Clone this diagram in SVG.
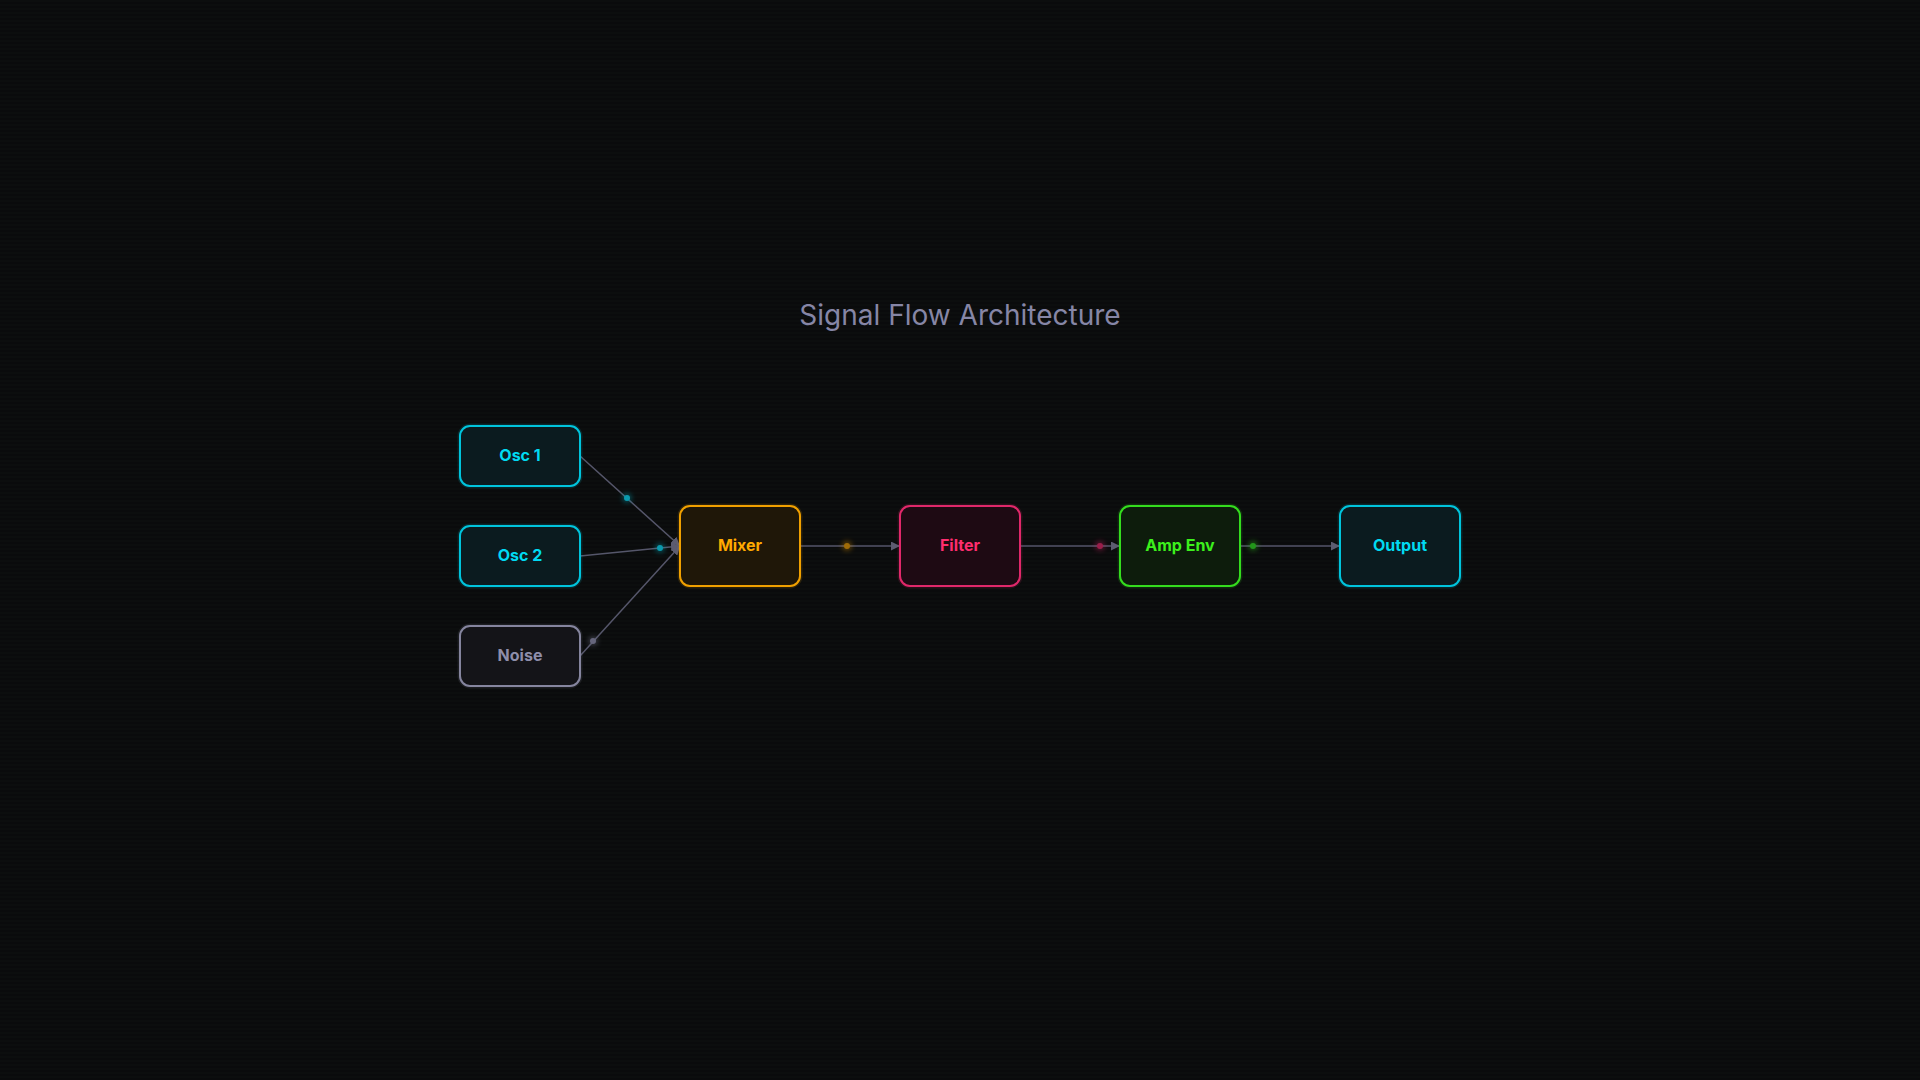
<svg xmlns="http://www.w3.org/2000/svg" width="1920" height="1080" viewBox="0 0 1920 1080">
  <defs>
    <pattern id="scan" width="4" height="4" patternUnits="userSpaceOnUse">
      <rect width="4" height="2" fill="#0c0e0e"/>
    </pattern>
    <marker id="arr" viewBox="0 0 10 10" refX="10" refY="5" markerWidth="9" markerHeight="9" markerUnits="userSpaceOnUse" orient="auto">
      <path d="M0,0 L10,5 L0,10 Z" fill="#5c5c70"/>
    </marker>
    <filter id="glow" x="-50%" y="-50%" width="200%" height="200%">
      <feGaussianBlur stdDeviation="2.5"/>
    </filter>
    <style>
      .title { font-family: Inter, "Liberation Sans", sans-serif; font-size: 28px; fill: #8686a6; text-anchor: middle; }
      .lbl { font-family: Inter, "Liberation Sans", sans-serif; font-size: 16px; font-weight: 700; text-anchor: middle; }
      .box { stroke-width: 2; }
      .halo { fill: none; stroke-width: 5; stroke-opacity: 0.14; }
      .edge { fill: none; stroke: #55566a; stroke-width: 1.5; }
      .cyan .box { fill: #0b1b1f; stroke: #00c4dc; }
      .cyan .halo { stroke: #00c4dc; }
      .cyan text { fill: #00daf2; }
      .gray .box { fill: #141418; stroke: #85859e; }
      .gray .halo { stroke: #85859e; }
      .gray text { fill: #8e8eaa; }
      .amber .box { fill: #1f1708; stroke: #f0a000; }
      .amber .halo { stroke: #f0a000; }
      .amber text { fill: #ffaa00; }
      .pink .box { fill: #1e0a13; stroke: #e0286a; }
      .pink .halo { stroke: #e0286a; }
      .pink text { fill: #ff2d6e; }
      .green .box { fill: #0d1c0c; stroke: #34dc1e; }
      .green .halo { stroke: #34dc1e; }
      .green text { fill: #3cf01c; }
    </style>
  </defs>

  <rect width="1920" height="1080" fill="#0a0b0c"/>
  <rect width="1920" height="1080" fill="url(#scan)"/>

  <text class="title" x="960" y="325">Signal Flow Architecture</text>

  <g id="connectors">
    <path class="edge" d="M580,456 L680,546" marker-end="url(#arr)"/>
    <path class="edge" d="M580,556 L680,546" marker-end="url(#arr)"/>
    <path class="edge" d="M580,656 L680,546" marker-end="url(#arr)"/>
    <path class="edge" d="M800,546 L900,546" marker-end="url(#arr)"/>
    <path class="edge" d="M1020,546 L1120,546" marker-end="url(#arr)"/>
    <path class="edge" d="M1240,546 L1340,546" marker-end="url(#arr)"/>
    <g id="pulses">
      <circle cx="627" cy="498" r="5" fill="#00b8cc" opacity="0.35" filter="url(#glow)"/>
      <circle cx="627" cy="498" r="3" fill="#0a9aae"/>
      <circle cx="660" cy="548" r="5" fill="#00b8cc" opacity="0.35" filter="url(#glow)"/>
      <circle cx="660" cy="548" r="3" fill="#0a9aae"/>
      <circle cx="593" cy="641" r="5" fill="#85859e" opacity="0.35" filter="url(#glow)"/>
      <circle cx="593" cy="641" r="3" fill="#66667c"/>
      <circle cx="847" cy="546" r="5" fill="#f0a000" opacity="0.35" filter="url(#glow)"/>
      <circle cx="847" cy="546" r="3" fill="#a06c08"/>
      <circle cx="1100" cy="546" r="5" fill="#e0286a" opacity="0.35" filter="url(#glow)"/>
      <circle cx="1100" cy="546" r="3" fill="#9a1e4a"/>
      <circle cx="1253" cy="546" r="5" fill="#34dc1e" opacity="0.35" filter="url(#glow)"/>
      <circle cx="1253" cy="546" r="3" fill="#22961a"/>
    </g>
  </g>

  <g id="osc1" class="cyan">
    <rect class="halo" x="460" y="426" width="120" height="60" rx="10"/>
    <rect class="box" x="460" y="426" width="120" height="60" rx="10"/>
    <text class="lbl" x="520" y="461">Osc 1</text>
  </g>
  <g id="osc2" class="cyan">
    <rect class="halo" x="460" y="526" width="120" height="60" rx="10"/>
    <rect class="box" x="460" y="526" width="120" height="60" rx="10"/>
    <text class="lbl" x="520" y="561">Osc 2</text>
  </g>
  <g id="noise" class="gray">
    <rect class="halo" x="460" y="626" width="120" height="60" rx="10"/>
    <rect class="box" x="460" y="626" width="120" height="60" rx="10"/>
    <text class="lbl" x="520" y="661">Noise</text>
  </g>
  <g id="mixer" class="amber">
    <rect class="halo" x="680" y="506" width="120" height="80" rx="10"/>
    <rect class="box" x="680" y="506" width="120" height="80" rx="10"/>
    <text class="lbl" x="740" y="551">Mixer</text>
  </g>
  <g id="filter" class="pink">
    <rect class="halo" x="900" y="506" width="120" height="80" rx="10"/>
    <rect class="box" x="900" y="506" width="120" height="80" rx="10"/>
    <text class="lbl" x="960" y="551">Filter</text>
  </g>
  <g id="ampenv" class="green">
    <rect class="halo" x="1120" y="506" width="120" height="80" rx="10"/>
    <rect class="box" x="1120" y="506" width="120" height="80" rx="10"/>
    <text class="lbl" x="1180" y="551">Amp Env</text>
  </g>
  <g id="output" class="cyan">
    <rect class="halo" x="1340" y="506" width="120" height="80" rx="10"/>
    <rect class="box" x="1340" y="506" width="120" height="80" rx="10"/>
    <text class="lbl" x="1400" y="551">Output</text>
  </g>
</svg>
